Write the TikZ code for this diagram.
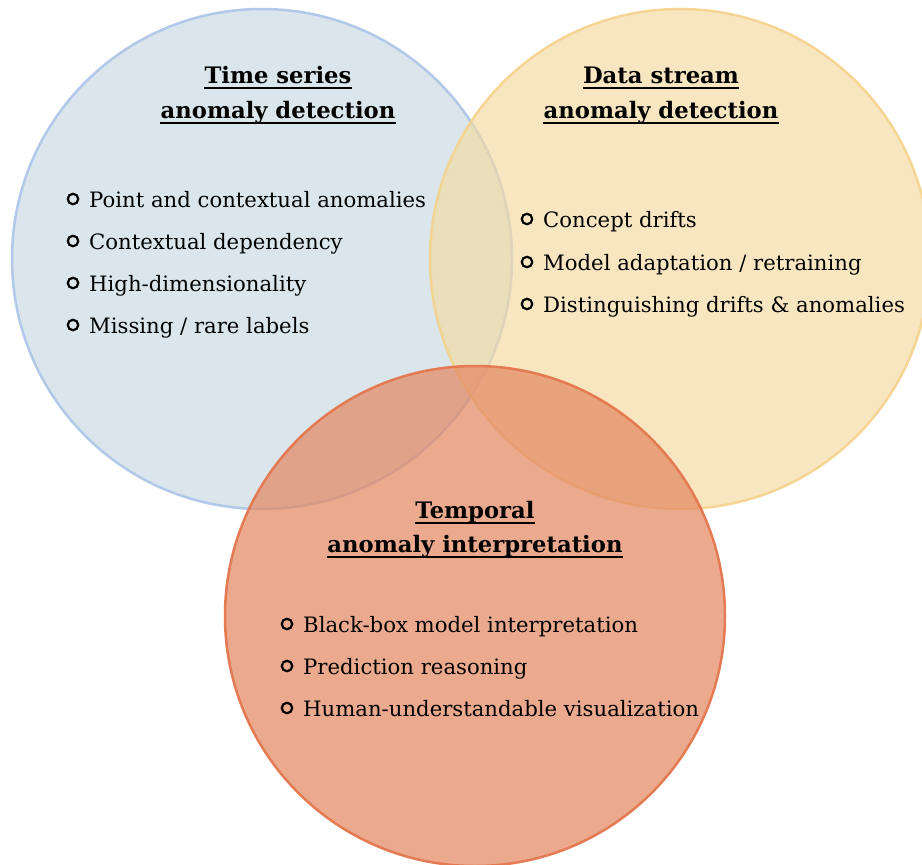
\documentclass[tikz,border=0pt]{standalone}
\usepackage{fontspec}
\setmainfont{DejaVu Serif}
\definecolor{bluef}{RGB}{198,217,226}
\definecolor{blued}{RGB}{172,196,232}
\definecolor{yelf}{RGB}{245,217,160}
\definecolor{yeld}{RGB}{245,210,140}
\definecolor{redf}{RGB}{227,137,99}
\definecolor{redd}{RGB}{228,118,78}
\begin{document}
\begin{tikzpicture}[x=1pt,y=-1pt,
  venn/.style={circle, minimum size=500pt, inner sep=0pt, line width=2.5pt},
  itm/.style={anchor=base west, inner sep=0pt, font=\fontsize{21.2}{25}\selectfont},
  ttl/.style={anchor=base, inner sep=0pt, font=\bfseries\fontsize{22.7}{27}\selectfont},
  bul/.style={circle, draw, line width=2.2pt, minimum size=10.5pt, inner sep=0pt},
  ul/.style={line width=1.3pt}
]
\useasboundingbox (0,0) rectangle (922,865);
% circles
\node[venn, fill=bluef, fill opacity=0.65, draw=blued, draw opacity=0.9] (cb) at (262,259) {};
\node[venn, fill=yelf, fill opacity=0.65, draw=yeld, draw opacity=0.9] (cy) at (680,259) {};
\node[venn, fill=redf, fill opacity=0.72, draw=redd, draw opacity=0.95] (cr) at (475,616) {};

% titles
\node[ttl] (tb1) at (278,83) {Time series};
\node[ttl] (tb2) at (278,118) {anomaly detection};
\node[ttl] (ty1) at (661,83) {Data stream};
\node[ttl] (ty2) at (661,118) {anomaly detection};
\node[ttl] (tr1) at (475,518) {Temporal};
\node[ttl] (tr2) at (475,552) {anomaly interpretation};
\foreach \n in {tb1,tb2,ty1,ty2,tr1,tr2}{
  \draw[ul] ([yshift=-5pt]\n.base west) -- ([yshift=-5pt]\n.base east);
}

% blue items
\node[itm] (b1) at (89,207) {Point and contextual anomalies};
\node[itm] (b2) at (89,249) {Contextual dependency};
\node[itm] (b3) at (89,291) {High-dimensionality};
\node[itm] (b4) at (89,333) {Missing / rare labels};
% yellow items
\node[itm] (y1) at (543,227) {Concept drifts};
\node[itm] (y2) at (543,270) {Model adaptation / retraining};
\node[itm] (y3) at (543,312) {Distinguishing drifts \& anomalies};
% red items
\node[itm] (r1) at (303,632) {Black-box model interpretation};
\node[itm] (r2) at (303,674) {Prediction reasoning};
\node[itm] (r3) at (303,716) {Human-understandable visualization};

\foreach \n in {b1,b2,b3,b4,y1,y2,y3,r1,r2,r3}{
  \node[bul] (\n-bul) at ([xshift=-16pt,yshift=8pt]\n.base west) {};
}
\end{tikzpicture}
\end{document}
